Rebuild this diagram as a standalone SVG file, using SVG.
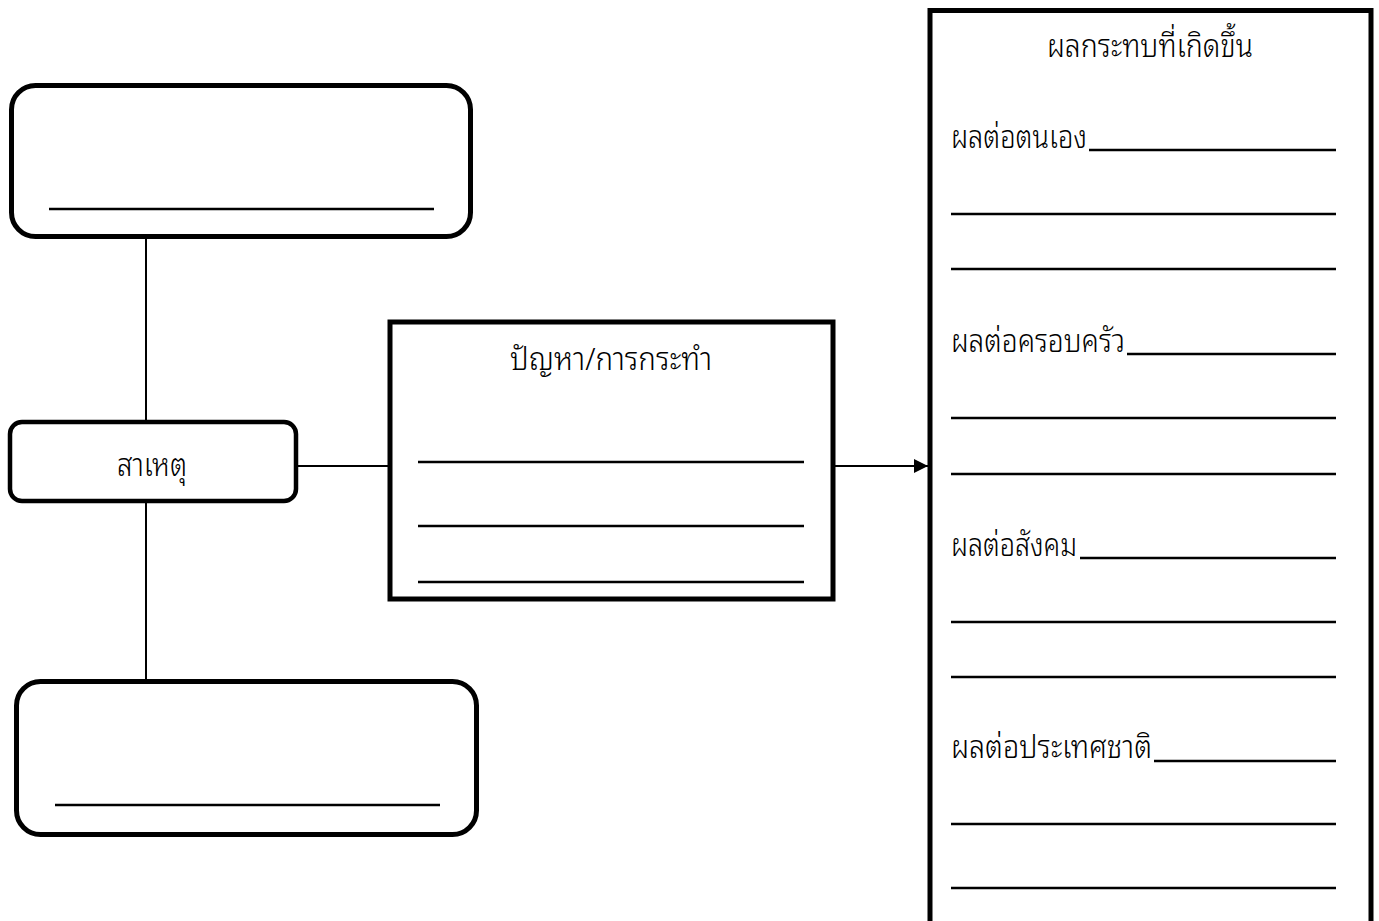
<svg xmlns="http://www.w3.org/2000/svg" width="1379" height="921" viewBox="0 0 1379 921">
<defs>
<style>
.box{fill:#fff;stroke:#000;stroke-width:5}
.sbox{fill:#fff;stroke:#000;stroke-width:4.5}
.fill{stroke:#000;stroke-width:2.5}
.conn{stroke:#000;stroke-width:2;fill:none}
text{font-family:"Noto Sans Thai Looped","Loma","Garuda","Noto Sans Thai","Noto Sans","Liberation Sans",sans-serif;font-size:32px;font-weight:300;fill:#000}
</style>
<marker id="arr" viewBox="0 0 10 10" refX="10" refY="5" markerWidth="14" markerHeight="14" markerUnits="userSpaceOnUse" orient="auto">
<path d="M0,0 L10,5 L0,10 Z" fill="#000"/>
</marker>
</defs>
<rect width="1379" height="921" fill="#fff"/>
<g id="connectors">
<line class="conn" x1="146" y1="238" x2="146" y2="421"/>
<line class="conn" x1="146" y1="502" x2="146" y2="680"/>
<line class="conn" x1="297" y1="466" x2="389" y2="466"/>
<line class="conn" x1="834" y1="466" x2="928" y2="466" marker-end="url(#arr)"/>
</g>
<g id="top-box">
<rect class="box" x="11.5" y="85.5" width="459" height="151" rx="24"/>
<line class="fill" x1="49" y1="209" x2="434" y2="209"/>
</g>
<g id="cause">
<rect class="sbox" x="10" y="422" width="286" height="79" rx="12"/>
<text x="117" y="476" textLength="70" lengthAdjust="spacingAndGlyphs">สาเหตุ</text>
</g>
<g id="bottom-box">
<rect class="box" x="16.5" y="681.5" width="460" height="153" rx="24"/>
<line class="fill" x1="55" y1="805" x2="440" y2="805"/>
</g>
<g id="problem">
<rect class="box" x="390" y="322" width="443" height="277"/>
<text x="510" y="370" textLength="202" lengthAdjust="spacingAndGlyphs">ปัญหา/การกระทำ</text>
<line class="fill" x1="418" y1="462" x2="804" y2="462"/>
<line class="fill" x1="418" y1="526" x2="804" y2="526"/>
<line class="fill" x1="418" y1="582" x2="804" y2="582"/>
</g>
<g id="effects">
<rect class="box" x="930" y="10.5" width="441" height="940"/>
<text x="1047" y="57" textLength="206" lengthAdjust="spacingAndGlyphs">ผลกระทบที่เกิดขึ้น</text>
<text x="951" y="148" textLength="136" lengthAdjust="spacingAndGlyphs">ผลต่อตนเอง</text>
<line class="fill" x1="1089" y1="150" x2="1336" y2="150"/>
<line class="fill" x1="951" y1="214" x2="1336" y2="214"/>
<line class="fill" x1="951" y1="269" x2="1336" y2="269"/>
<text x="951" y="352" textLength="174" lengthAdjust="spacingAndGlyphs">ผลต่อครอบครัว</text>
<line class="fill" x1="1127" y1="354" x2="1336" y2="354"/>
<line class="fill" x1="951" y1="418" x2="1336" y2="418"/>
<line class="fill" x1="951" y1="474" x2="1336" y2="474"/>
<text x="951" y="556" textLength="126" lengthAdjust="spacingAndGlyphs">ผลต่อสังคม</text>
<line class="fill" x1="1080" y1="558" x2="1336" y2="558"/>
<line class="fill" x1="951" y1="622" x2="1336" y2="622"/>
<line class="fill" x1="951" y1="677" x2="1336" y2="677"/>
<text x="951" y="758" textLength="201" lengthAdjust="spacingAndGlyphs">ผลต่อประเทศชาติ</text>
<line class="fill" x1="1154" y1="761" x2="1336" y2="761"/>
<line class="fill" x1="951" y1="824" x2="1336" y2="824"/>
<line class="fill" x1="951" y1="888" x2="1336" y2="888"/>
</g>
</svg>
